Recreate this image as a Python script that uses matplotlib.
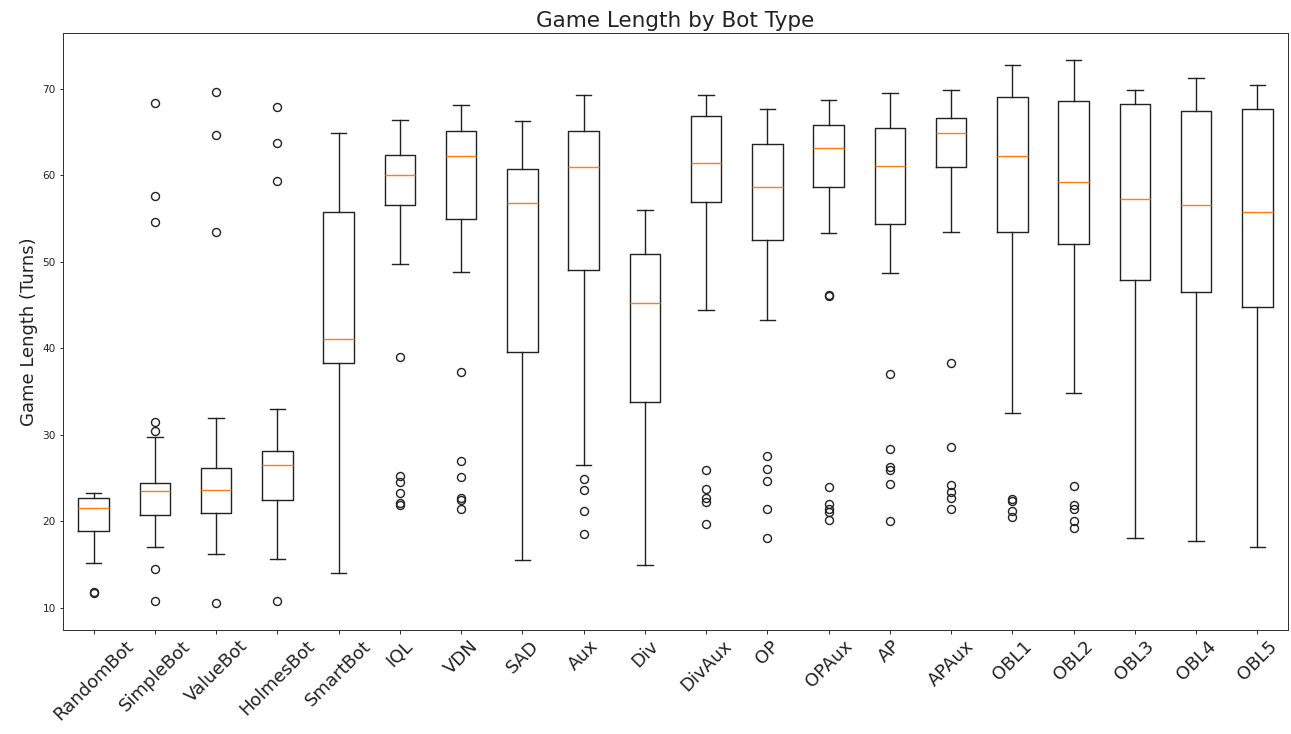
import matplotlib
matplotlib.use("Agg")
import matplotlib.pyplot as plt

labels = ["RandomBot", "SimpleBot", "ValueBot", "HolmesBot", "SmartBot", "IQL", "VDN",
          "SAD", "Aux", "Div", "DivAux", "OP", "OPAux", "AP", "APAux",
          "OBL1", "OBL2", "OBL3", "OBL4", "OBL5"]

q1 = [18.9, 20.8, 21.0, 22.5, 38.3, 56.6, 54.9, 39.6, 49.1, 33.8,
      56.9, 52.5, 58.7, 54.4, 60.9, 53.5, 52.1, 47.9, 46.5, 44.8]
med = [21.6, 23.5, 23.6, 26.5, 41.1, 60.0, 62.2, 56.8, 60.9, 45.2,
       61.4, 58.6, 63.1, 61.1, 64.9, 62.2, 59.2, 57.3, 56.6, 55.7]
q3 = [22.7, 24.4, 26.2, 28.1, 55.7, 62.3, 65.1, 60.7, 65.1, 50.9,
      66.8, 63.6, 65.8, 65.5, 66.6, 69.0, 68.6, 68.2, 67.4, 67.6]
whislo = [15.2, 17.1, 16.3, 15.7, 14.1, 49.8, 48.8, 15.6, 26.5, 15.0,
          44.4, 43.3, 53.3, 48.7, 53.5, 32.5, 34.9, 18.1, 17.8, 17.1]
whishi = [23.3, 29.8, 32.0, 33.0, 64.9, 66.4, 68.1, 66.3, 69.3, 56.0,
          69.3, 67.7, 68.7, 69.5, 69.8, 72.7, 73.3, 69.9, 71.2, 70.4]
fliers = [
    [11.7, 11.9],
    [68.4, 57.6, 54.6, 31.5, 30.5, 14.5, 10.8],
    [69.6, 64.7, 53.4, 10.6],
    [67.9, 63.7, 59.3, 10.8],
    [],
    [39.0, 25.3, 24.6, 23.3, 21.9, 22.1],
    [37.3, 27.0, 25.1, 22.7, 22.5, 21.4],
    [],
    [24.9, 23.6, 21.2, 18.6],
    [],
    [26.0, 23.7, 22.7, 22.2, 19.7],
    [27.6, 26.1, 24.7, 21.4, 18.1],
    [46.0, 46.2, 24.0, 22.0, 21.5, 21.1, 20.2],
    [37.0, 28.4, 26.3, 26.0, 24.3, 20.0],
    [38.3, 28.6, 24.2, 23.4, 22.7, 21.4],
    [22.6, 22.4, 21.2, 20.5],
    [24.1, 21.9, 21.5, 20.1, 19.2],
    [],
    [],
    [],
]

stats = []
for i, lab in enumerate(labels):
    stats.append(dict(label=lab, q1=q1[i], med=med[i], q3=q3[i],
                      whislo=whislo[i], whishi=whishi[i], fliers=fliers[i]))

DPI = 72
LW = 1.4
fig = plt.figure(figsize=(1291 / DPI, 734 / DPI), dpi=DPI)
ax = fig.add_axes([63 / 1291, 1 - 630 / 734, (1288 - 63) / 1291, (630 - 33) / 734])
ax.bxp(stats, showfliers=True,
       boxprops=dict(linewidth=LW, color="#222222"),
       whiskerprops=dict(linewidth=LW, color="#222222"),
       capprops=dict(linewidth=LW, color="#222222"),
       medianprops=dict(linewidth=LW, color="#ff7f0e"),
       flierprops=dict(marker="o", markersize=8, markeredgewidth=LW,
                       markerfacecolor="none", markeredgecolor="#222222"))
for s in ax.spines.values():
    s.set_linewidth(1.0)
    s.set_color("#333333")
ax.set_title("Game Length by Bot Type", fontsize=21.5, color="#222222")
ax.set_ylabel("Game Length (Turns)", fontsize=18, color="#222222")
ax.tick_params(axis="x", labelsize=18, labelrotation=45, labelcolor="#222222")
ax.tick_params(axis="y", labelsize=10.5, labelcolor="#222222")
fig.savefig("out.png", dpi=DPI)
